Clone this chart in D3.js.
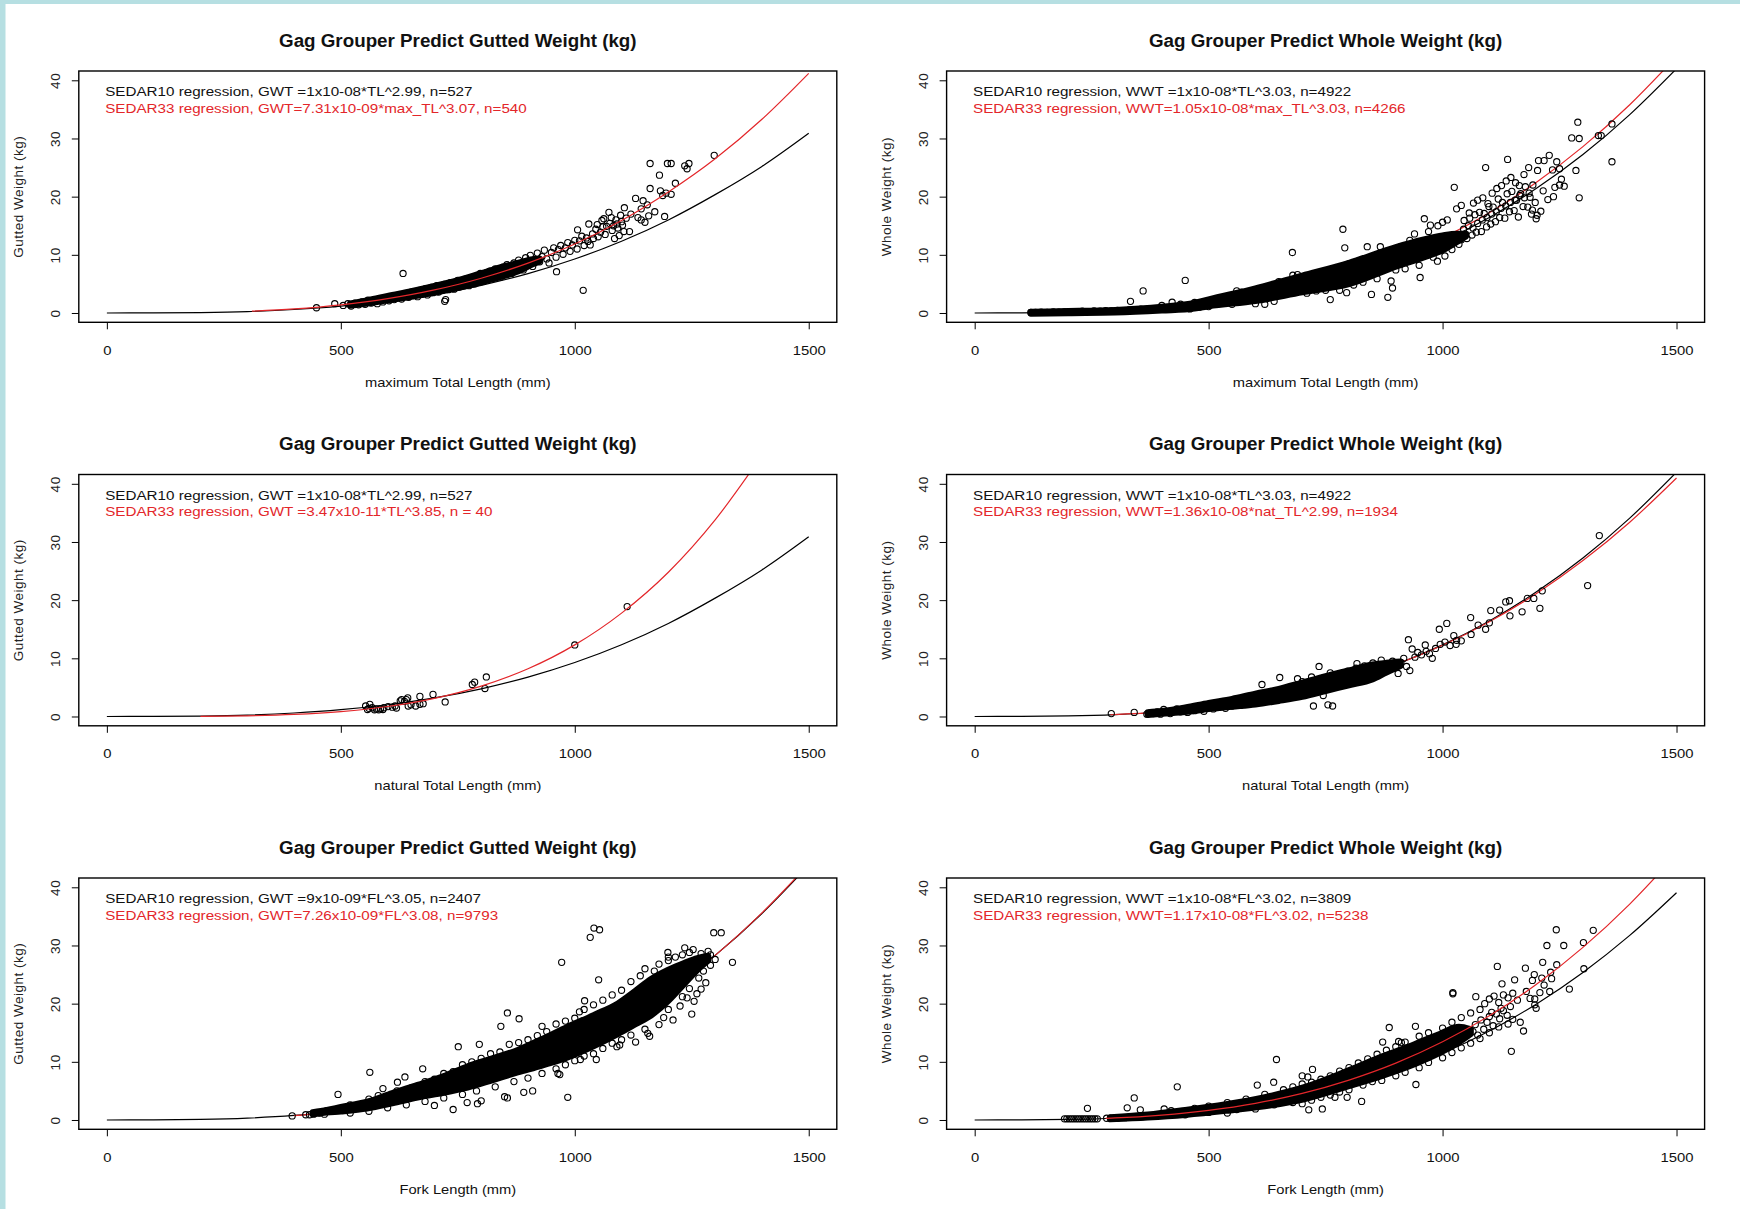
<!DOCTYPE html>
<html>
<head>
<meta charset="utf-8">
<script src="https://cdn.jsdelivr.net/npm/d3@7"></script>
<style>
  body { margin: 0; background: #fff; }
  svg { display: block; font-family: "Liberation Sans", Arial, sans-serif; }
</style>
</head>
<body>
<svg id="fig" width="1740" height="1209"></svg>
<script>
const xTicks = [0, 500, 1000, 1500];
const yTicks = [0, 10, 20, 30, 40];
const lengthGrid = [0, 100, 200, 300, 400, 500, 600, 700, 800, 900, 1000, 1100, 1200, 1300, 1400, 1500];

// SEDAR10 curves, read at lengthGrid
const gwtTL10 = [0, 0.01, 0.08, 0.25, 0.6, 1.17, 2.02, 3.19, 4.76, 6.77, 9.28, 12.34, 16.0, 20.35, 25.2, 30.9];
const wwtTL10 = [0, 0.01, 0.09, 0.32, 0.77, 1.5, 2.62, 4.18, 6.25, 8.94, 12.31, 16.42, 21.38, 27.23, 34.1, 42.0];
const gwtFL10 = [0, 0.01, 0.09, 0.32, 0.78, 1.54, 2.68, 4.28, 6.44, 9.22, 12.72, 17.0, 22.17, 28.3, 35.5, 43.8];
const wwtFL10 = [0, 0.01, 0.09, 0.3, 0.72, 1.42, 2.46, 3.91, 5.86, 8.35, 11.49, 15.31, 19.91, 25.36, 31.73, 39.07];

// SEDAR33 curves (own length ranges)
const redMaxGX = [310, 400, 500, 600, 700, 800, 900, 1000, 1100, 1200, 1300, 1400, 1500];
const gwtMax33 = [0.32, 0.71, 1.41, 2.47, 3.97, 5.98, 8.58, 11.86, 15.9, 20.8, 26.5, 33.3, 41.2];
const redMaxWX = [120, 200, 300, 400, 500, 600, 700, 800, 900, 1000, 1100, 1200, 1300, 1400, 1500];
const wwtMax33 = [0.02, 0.1, 0.34, 0.8, 1.58, 2.75, 4.39, 6.57, 9.39, 12.93, 17.24, 22.45, 28.6, 35.8, 44.1];
const redNatGX = [200, 300, 400, 500, 600, 700, 800, 900, 1000, 1100, 1200, 1300, 1400];
const gwtNat33 = [0.03, 0.12, 0.36, 0.85, 1.72, 3.12, 5.22, 8.2, 12.31, 17.77, 24.8, 33.8, 44.9];
const redNatWX = [290, 400, 500, 600, 700, 800, 900, 1000, 1100, 1200, 1300, 1400, 1500];
const wwtNat33 = [0.3, 0.8, 1.55, 2.68, 4.24, 6.3, 8.95, 12.25, 16.3, 21.1, 26.8, 33.4, 41.0];
const redForkGX = [400, 500, 600, 700, 800, 900, 1000, 1100, 1200, 1300, 1400, 1500];
const gwtFL33 = [0.75, 1.49, 2.62, 4.2, 6.35, 9.12, 12.62, 16.93, 22.13, 28.3, 35.6, 44.0];
const redForkWX = [280, 300, 400, 500, 600, 700, 800, 900, 1000, 1100, 1200, 1300, 1400, 1500];
const wwtFL33 = [0.29, 0.35, 0.84, 1.66, 2.87, 4.57, 6.86, 9.77, 13.44, 17.91, 23.29, 29.67, 37.12, 45.7];

// saturated part of the clouds: [length, low, high]
const coreMaxG = [[520,1.3,1.6],[560,1.7,2.2],[600,2.2,2.9],[650,2.8,3.7],[700,3.5,4.6],[750,4.3,5.6],[800,5.3,6.8],[850,6.4,8.0],[880,7.2,8.6],[910,8.4,9.2],[925,8.9,9.3]];
const coreMaxW = [[120,-0.1,0.2],[200,0.0,0.3],[300,0.1,0.5],[400,0.45,1.05],[470,0.8,1.7],[500,1.2,2.3],[600,2.1,4.2],[700,3.6,6.4],[800,5.0,8.6],[900,8.0,11.3],[960,9.6,12.6],[1000,10.8,13.3],[1030,12.2,13.6],[1050,13.2,13.6]];
const coreNatW = [[370,0.3,0.7],[400,0.5,0.9],[450,0.8,1.5],[500,1.3,2.3],[550,1.7,3.0],[600,2.1,3.9],[650,2.7,4.7],[700,3.4,5.8],[750,4.4,6.9],[800,5.4,7.9],[850,6.4,8.9],[880,7.6,9.2],[910,8.7,9.4]];
const coreForkG = [[440,1.0,1.3],[470,1.3,1.7],[500,1.5,2.2],[556,2.0,3.1],[610,2.9,4.6],[664,3.9,6.0],[720,4.7,7.5],[771,5.6,9.2],[825,6.9,10.6],[878,8.2,12.0],[930,9.4,13.9],[985,10.8,16.0],[1040,12.7,18.0],[1092,14.8,20.0],[1130,16.5,22.2],[1163,18.0,24.2],[1200,20.5,25.8],[1235,23.5,27.0],[1262,25.8,27.8],[1285,27.4,28.2]];
const coreForkW = [[290,0.15,0.45],[370,0.45,0.9],[450,0.9,1.7],[537,1.6,2.7],[620,2.4,3.9],[704,3.6,5.6],[790,5.6,8.2],[871,7.6,10.9],[940,9.6,13.0],[995,11.6,14.8],[1035,13.4,16.0],[1060,14.8,15.6]];

const ptsMaxG = [[448,0.9],[487,1.6],[505,1.3],[515,1.6],[522,1.2],[530,1.7],[538,1.4],[545,1.9],[552,1.5],[558,2.2],[565,1.7],[572,2.1],[578,1.6],[585,2.4],[590,1.9],[597,2.6],[603,2.1],[608,2.8],[614,2.3],[620,2.6],[625,3.1],[630,2.4],[633,6.8],[636,2.9],[640,3.3],[645,2.7],[650,3.6],[655,3.0],[660,3.4],[664,2.8],[668,3.9],[672,3.2],[677,3.6],[681,4.2],[685,3.1],[689,3.8],[693,4.4],[697,3.5],[701,4.0],[705,4.7],[709,3.6],[713,4.3],[717,3.9],[721,4.9],[722,2.0],[724,2.3],[726,4.4],[730,4.0],[734,5.2],[738,4.6],[742,4.1],[746,5.0],[750,5.6],[754,4.5],[758,5.2],[762,4.8],[766,5.8],[770,5.3],[774,4.7],[778,6.0],[782,5.5],[786,5.0],[790,6.3],[794,5.8],[798,6.8],[802,5.4],[806,6.2],[810,6.9],[814,5.8],[818,7.2],[822,6.5],[826,6.0],[830,7.6],[834,6.8],[838,7.3],[842,6.2],[846,7.9],[850,7.0],[855,8.3],[860,7.5],[865,6.8],[870,8.6],[875,7.8],[880,9.1],[885,8.2],[890,7.4],[895,9.5],[900,8.6],[905,9.9],[910,8.0],[915,9.2],[920,10.3],[925,8.8],[930,9.7],[935,10.8],[940,9.3],[945,8.6],[950,10.4],[955,11.2],[961,7.1],[960,9.6],[965,10.9],[970,11.6],[975,10.1],[980,11.2],[985,12.1],[990,10.6],[995,11.7],[1000,12.5],[1006,14.3],[1005,11.0],[1010,12.4],[1015,13.2],[1018,3.9],[1020,11.6],[1025,12.9],[1028,12.3],[1030,15.3],[1033,11.7],[1038,13.6],[1045,14.4],[1050,13.1],[1058,15.9],[1060,14.8],[1065,13.5],[1073,17.3],[1075,15.4],[1080,14.2],[1085,12.8],[1088,16.0],[1092,14.6],[1095,13.3],[1100,15.7],[1106,18.1],[1105,14.0],[1110,16.3],[1117,14.0],[1120,17.0],[1130,19.7],[1135,16.4],[1142,17.9],[1142,16.0],[1146,19.3],[1150,15.6],[1155,18.6],[1158,16.7],[1161,21.4],[1161,25.7],[1171,17.4],[1181,23.7],[1183,21.0],[1188,20.2],[1192,16.6],[1195,20.6],[1198,25.7],[1206,25.7],[1206,20.4],[1215,22.3],[1235,25.3],[1244,25.7],[1240,24.8],[1298,27.1],
  [1040,12.8],[1048,15.2],[1055,13.9],[1062,16.2],[1068,14.9],[1078,16.4],[1083,15.0],[1090,15.3],[1098,16.8],[1102,15.1]];

const ptsMaxW = [[120,0.1],[130,0.1],[142,0.15],[155,0.1],[168,0.2],[180,0.15],[192,0.2],[205,0.25],[218,0.2],[230,0.3],[242,0.25],[255,0.35],[268,0.3],[280,0.4],[292,0.35],[305,0.45],[318,0.4],[330,0.55],[333,2.0],[343,0.5],[355,0.65],[360,3.8],[368,0.6],[380,0.75],[392,0.7],[400,1.3],[405,0.9],[418,0.85],[422,1.85],[430,1.0],[440,1.5],[450,5.6],[455,1.2],[460,0.7],[470,1.8],[480,1.0],[480,1.7],[500,1.1],[500,1.9],[510,2.2],[530,2.3],[540,2.6],[550,1.5],[560,2.9],[560,3.8],[570,3.6],[580,3.0],[590,3.3],[600,1.6],[610,3.4],[620,3.6],[620,1.5],[640,4.0],[640,2.0],[650,5.4],[660,4.3],[670,5.3],[679,10.4],[680,6.5],[690,6.6],[700,6.0],[710,3.4],[720,6.3],[730,3.8],[740,6.9],[750,3.9],[760,2.3],[760,7.0],[770,7.4],[780,3.9],[787,14.4],[791,11.2],[795,3.5],[800,8.5],[810,4.8],[820,8.9],[830,5.3],[839,11.4],[840,9.4],[848,3.2],[850,9.6],[860,5.9],[867,11.4],[870,10.3],[883,2.7],[880,10.6],[890,5.5],[893,4.3],[900,7.4],[910,11.4],[920,7.6],[930,12.5],[940,13.6],[950,8.2],[952,6.1],[961,16.2],[970,14.0],[974,15.1],[980,9.6],[989,8.9],[990,15.0],[1000,15.6],[1005,9.8],[1010,16.0],[1020,10.9],[1025,21.6],[1030,17.9],[1035,11.8],[1040,18.5],[1040,12.6],
  [1052,12.8],[1046,15.9],[1057,17.2],[1063,13.4],[1058,16.3],[1066,18.9],[1072,13.9],[1069,16.9],[1075,19.4],[1083,14.0],[1079,17.3],[1086,19.8],[1094,14.8],[1089,17.1],[1097,18.8],[1092,25.0],[1103,15.3],[1099,18.3],[1106,20.6],[1113,15.7],[1108,18.2],[1116,21.4],[1122,16.4],[1119,19.6],[1126,21.9],[1133,16.3],[1128,19.0],[1136,22.7],[1139,26.4],[1143,17.4],[1138,20.5],[1146,23.3],[1153,17.6],[1148,20.9],[1156,22.4],[1162,16.5],[1158,19.4],[1164,21.9],[1172,18.3],[1167,20.5],[1174,23.8],[1182,18.2],[1177,21.7],[1184,25.0],[1192,17.7],[1187,19.9],[1193,22.0],[1202,16.8],[1198,19.0],[1203,24.5],
  [1205,26.2],[1217,26.2],[1228,27.1],[1244,26.0],[1235,24.6],[1250,24.8],[1237,20.0],[1240,21.6],[1250,22.0],[1254,23.0],[1285,24.5],[1276,30.1],[1292,30.0],[1289,32.8],[1333,30.5],[1339,30.5],[1362,32.5],[1362,26.0],[1292,19.8],[1215,21.0],[1225,19.5],[1190,17.0],[1200,16.2],[1210,17.5],[1260,21.8],
  [1045,14.4],[1055,15.0],[1065,14.6],[1075,15.4],[1085,16.0],[1095,16.4],[1105,17.0],[1115,17.4],[1125,18.0],[1135,18.4],[1145,19.0],[1155,19.4],[1165,20.2],[1175,19.8],[1185,20.6]];

const ptsNatG = [[553,1.8],[562,2.1],[557,1.2],[567,1.5],[572,1.15],[576,1.3],[581,1.15],[585,1.35],[592,1.5],[601,1.7],[616,1.8],[619,1.45],[627,2.7],[630,2.9],[636,2.6],[643,3.2],[644,1.8],[660,1.8],[669,2.1],[669,3.45],[676,2.2],[697,3.8],[723,2.5],[781,5.5],[786,5.9],[808,4.8],[811,6.8],[1000,12.3],[1112,18.9],[560,1.4],[590,1.2],[610,1.6],[640,2.9],[650,2.0]];

const ptsNatW = [[292,0.5],[341,0.7],[368,0.4],[375,0.6],[382,0.5],[390,0.8],[397,0.4],[404,1.2],[410,0.7],[418,0.5],[425,0.9],[432,1.3],[440,0.8],[447,1.1],[455,0.7],[462,1.4],[470,1.0],[477,1.6],[484,1.2],[490,0.9],[497,1.5],[503,1.8],[510,1.3],[516,2.2],[523,1.6],[530,1.9],[536,1.4],[543,2.4],[550,1.8],[556,2.1],[562,2.7],[568,1.9],[575,2.4],[581,3.0],[587,2.2],[593,2.7],[599,3.4],[605,2.4],[611,3.0],[614,5.5],[617,3.7],[623,2.7],[629,3.3],[635,4.0],[641,2.9],[647,3.6],[652,6.7],[653,4.4],[659,3.2],[665,3.9],[671,4.8],[677,3.5],[683,4.3],[689,5.2],[690,6.5],[695,3.8],[700,6.0],[701,4.7],[707,5.6],[713,4.2],[719,5.1],[720,6.8],[724,1.8],[725,6.0],[731,4.5],[736,8.6],[737,5.5],[743,6.4],[745,3.6],[749,4.8],[755,2.0],[755,5.9],[760,7.5],[761,6.9],[765,1.8],[767,5.2],[773,6.3],[779,7.3],[785,5.6],[791,6.7],[797,7.8],[803,6.0],[809,7.2],[815,8.3],[817,9.1],[821,6.5],[827,7.6],[833,8.7],[839,7.0],[845,8.1],[851,9.2],[857,7.4],[863,8.6],[869,9.7],[875,7.9],[881,9.0],[887,8.2],[893,9.5],[899,8.7],[905,7.4],[911,9.3],[917,10.0],[923,8.6],[927,13.2],[930,7.9],[935,11.6],[941,10.2],[947,11.0],[955,10.6],[963,12.3],[965,11.2],[972,10.8],[978,10.0],[985,11.7],[993,15.0],[995,12.4],[1005,12.8],[1009,16.0],[1016,12.2],[1024,13.9],[1029,12.4],[1030,13.1],[1040,13.0],[1060,17.0],[1061,14.1],[1076,15.7],[1092,15.0],[1100,16.1],[1103,18.2],[1122,18.3],[1135,19.7],[1143,19.9],[1144,17.3],[1170,18.0],[1181,20.3],[1195,20.3],[1208,18.6],[1213,21.6],[1310,22.5],[1335,31.1]];

const ptsForkG = [[396,0.7],[425,0.9],[433,0.9],[442,1.0],[455,1.2],[465,1.0],[470,1.6],[494,4.4],[562,8.2],[590,5.4],[621,6.5],[637,7.4],[675,8.8],[751,12.6],[796,13.0],[842,16.1],[856,18.4],[881,17.4],[930,16.1],[972,27.1],[1033,31.4],[1041,33.0],[1053,32.7],[1051,24.1],[1021,20.5],[1010,18.6],[985,3.9],[1297,32.2],[1313,32.2],[1337,27.1],[1235,29.6],[1253,29.3],[1199,28.8],[1200,28.0],[1156,14.9],[1096,12.9],[792,2.8],[740,1.8],[856,3.8],[891,4.75],[964,8.0],[968,7.8],[1012,10.4],[1046,10.4],[1261,21.7],
  [520,1.2],[560,1.5],[600,2.1],[640,2.6],[680,3.2],[700,2.5],[720,3.8],[760,4.4],[770,3.0],[790,5.0],[800,3.3],[830,5.7],[850,4.0],[870,6.6],[900,7.2],[910,5.0],[930,8.0],[960,8.8],[980,9.5],[1000,10.2],[1020,11.0],[1040,11.4],[1060,12.3],[1080,13.2],[1090,12.6],[1100,13.8],[1120,14.6],[1130,13.4],[1150,15.6],[1160,14.4],[1180,16.4],[1190,17.6],[1200,19.0],[1210,17.2],[1225,19.6],[1240,21.0],[1250,18.2],[1255,20.4],[1270,22.5],[1280,23.6],[1230,21.2],[1265,24.4],[1275,25.6],[1290,26.6],[1300,27.6],[1245,22.6],
  [520,2.6],[560,3.6],[580,4.2],[600,3.9],[620,5.0],[650,5.5],[680,6.6],[700,7.0],[720,8.0],[740,8.3],[760,9.5],[780,10.0],[800,10.6],[820,11.4],[840,11.7],[860,13.0],[880,13.3],[900,13.8],[920,14.5],[940,15.2],[960,16.5],[980,17.0],[1000,17.5],[1020,19.0],[1040,19.8],[1060,20.6],[1080,21.5],[1100,22.3],[1120,23.8],[1140,24.8],[1150,26.0],[1170,25.6],[1180,26.8],[1200,27.4],[1215,28.0],[1230,28.4],[1245,28.8],[1270,28.6],[1285,29.0],[1290,28.4]];

const ptsForkW = [[192,0.2],[197,0.2],[202,0.2],[207,0.2],[212,0.2],[217,0.2],[222,0.2],[227,0.2],[232,0.2],[237,0.2],[242,0.2],[247,0.2],[252,0.2],[257,0.2],[262,0.2],[282,0.3],[290,0.3],[298,0.3],[306,0.3],[314,0.4],[322,0.4],[330,0.5],[340,0.5],[350,0.6],[360,0.6],
  [400,0.8],[450,0.9],[500,1.3],[540,1.2],[560,1.8],[600,1.9],[640,2.6],[680,3.0],[700,2.8],[720,3.4],[740,3.9],[760,4.3],[780,4.8],[800,5.2],[830,6.0],[850,6.6],[870,6.8],[900,7.6],[920,8.2],[950,9.0],[970,9.9],[1000,10.7],[1020,11.6],[1040,12.4],[1060,13.2],[1080,14.0],[1100,15.0],[1120,16.0],[1140,16.5],[1150,17.3],
  [420,1.6],[470,2.0],[500,2.4],[540,3.0],[580,3.6],[620,4.4],[660,5.2],[680,5.7],[700,6.2],[720,6.5],[740,7.0],[760,7.6],[780,8.4],[800,9.0],[820,9.8],[840,10.5],[860,11.3],[880,12.0],[900,12.6],[920,13.4],[950,14.4],[970,15.0],[1000,15.8],[1020,16.8],[1040,17.6],[1060,18.4],[1080,19.0],[1090,20.0],[1100,20.8],[1110,21.3],[1120,20.2],[1130,21.5],[1140,21.0],[1150,21.8],[1160,20.6],[1105,18.5],[1125,19.2],[1145,19.5],
  [1065,15.2],[1070,16.4],[1075,14.6],[1082,17.2],[1088,15.6],[1095,16.8],[1100,17.8],[1108,16.2],[1115,18.2],[1122,17.4],[1130,18.8],[1138,18.0],
  [241,2.0],[326,2.1],[341,3.8],[354,1.75],[405,1.9],[433,5.7],[604,6.0],[639,6.5],[645,10.4],[700,7.6],[712,7.4],[722,8.7],[714,1.75],[743,1.9],[770,3.9],[796,3.9],[827,3.2],[850,7.5],[872,13.4],[886,15.9],[906,13.5],[912,13.3],[942,16.1],[943,6.1],[1022,21.7],[1022,21.9],[1071,21.2],[1117,26.4],[1127,23.4],[1147,11.8],[1154,24.1],[1166,16.8],[1173,15.3],[1177,26.1],[1179,22.1],[1187,20.9],[1192,24.0],[1196,25.0],[1197,20.8],[1197,19.8],[1200,19.2],[1208,21.9],[1212,24.4],[1214,27.1],[1217,23.2],[1223,30.0],[1229,22.1],[1231,25.4],[1233,24.3],[1243,32.7],[1244,26.7],[1259,30.0],[1271,22.5],[1301,30.5],[1302,26.0],[1322,32.6]];

const titles = ["Gag Grouper Predict Gutted Weight (kg)", "Gag Grouper Predict Whole Weight (kg)"];
const yLabels = ["Gutted Weight (kg)", "Whole Weight (kg)"];
const xLabels = ["maximum Total Length (mm)", "natural Total Length (mm)", "Fork Length (mm)"];
const legends = [
  ["SEDAR10 regression, GWT =1x10-08*TL^2.99, n=527", "SEDAR33 regression, GWT=7.31x10-09*max_TL^3.07, n=540"],
  ["SEDAR10 regression, WWT =1x10-08*TL^3.03, n=4922", "SEDAR33 regression, WWT=1.05x10-08*max_TL^3.03, n=4266"],
  ["SEDAR10 regression, GWT =1x10-08*TL^2.99, n=527", "SEDAR33 regression, GWT =3.47x10-11*TL^3.85, n = 40"],
  ["SEDAR10 regression, WWT =1x10-08*TL^3.03, n=4922", "SEDAR33 regression, WWT=1.36x10-08*nat_TL^2.99, n=1934"],
  ["SEDAR10 regression, GWT =9x10-09*FL^3.05, n=2407", "SEDAR33 regression, GWT=7.26x10-09*FL^3.08, n=9793"],
  ["SEDAR10 regression, WWT =1x10-08*FL^3.02, n=3809", "SEDAR33 regression, WWT=1.17x10-08*FL^3.02, n=5238"]
];

const RED = "#e3262a";

class WeightPanel {

  constructor( config, data ) {
    this.config = {
      parent: config.parent,
      id: config.id,
      left: config.left,
      top: config.top,
      width: config.width || 758,
      height: config.height || 251.3,
      linesOnTop: config.linesOnTop
    }
    this.data = data;
    this.init();
  }

  init() {
    let self = this;
    self.chart = self.config.parent.append('g')
      .attr('transform', `translate(${self.config.left}, ${self.config.top})`);

    self.xscale = d3.scaleLinear().domain([-60, 1560]).range([0, self.config.width]);
    self.yscale = d3.scaleLinear().domain([-1.6, 41.6]).range([self.config.height, 0]);

    self.chart.append('clipPath').attr('id', 'clip' + self.config.id)
      .append('rect')
      .attr('width', self.config.width)
      .attr('height', self.config.height);

    self.plot = self.chart.append('g').attr('clip-path', `url(#clip${self.config.id})`);
  }

  wideText( g, x, y, str, size, sx ) {
    return g.append('text')
      .attr('transform', `translate(${x}, ${y}) scale(${sx}, 1)`)
      .attr('font-size', size)
      .text(str);
  }

  render() {
    let self = this;
    const d = self.data;
    const w = self.config.width, h = self.config.height;

    const line = d3.line()
      .x(p => self.xscale(p[0]))
      .y(p => self.yscale(p[1]))
      .curve(d3.curveMonotoneX);

    const drawLines = () => {
      self.plot.append('path')
        .attr('d', line(lengthGrid.map((x, i) => [x, d.black[i]])))
        .attr('fill', 'none').attr('stroke', '#000').attr('stroke-width', 1.2);
      self.plot.append('path')
        .attr('d', line(d.redX.map((x, i) => [x, d.red[i]])))
        .attr('fill', 'none').attr('stroke', RED).attr('stroke-width', 1.2);
    };

    if (!self.config.linesOnTop) drawLines();

    if (d.core) {
      const area = d3.area()
        .x(p => self.xscale(p[0]))
        .y0(p => self.yscale(p[1]))
        .y1(p => self.yscale(p[2]))
        .curve(d3.curveMonotoneX);
      self.plot.append('path')
        .attr('d', area(d.core))
        .attr('fill', '#000')
        .attr('stroke', '#000')
        .attr('stroke-width', 6.4)
        .attr('stroke-linejoin', 'round');
    }

    self.plot.append('g')
      .selectAll('circle')
      .data(d.points)
      .join('circle')
      .attr('cx', p => self.xscale(p[0]))
      .attr('cy', p => self.yscale(p[1]))
      .attr('r', 3.1)
      .attr('fill', 'none')
      .attr('stroke', '#000')
      .attr('stroke-width', 1.1);

    if (self.config.linesOnTop) drawLines();

    // frame
    self.chart.append('rect')
      .attr('width', w).attr('height', h)
      .attr('fill', 'none').attr('stroke', '#000').attr('stroke-width', 1.4);

    const xaxis = d3.axisBottom(self.xscale).tickValues(xTicks).tickSize(7).tickSizeOuter(0)
      .tickFormat(d3.format('d'));
    const xg = self.chart.append('g').attr('transform', `translate(0, ${h})`).call(xaxis);
    xg.select('.domain').remove();
    xg.selectAll('line').attr('stroke', '#000').attr('stroke-width', 1);
    xg.selectAll('text')
      .attr('y', null).attr('dy', null)
      .attr('transform', 'translate(0, 32.4) scale(1.1, 1)')
      .attr('font-size', 13.5)
      .attr('font-family', '"Liberation Sans", Arial, sans-serif')
      .attr('fill', '#111');

    const yaxis = d3.axisLeft(self.yscale).tickValues(yTicks).tickSize(7).tickSizeOuter(0)
      .tickFormat(d3.format('d'));
    const yg = self.chart.append('g').call(yaxis);
    yg.select('.domain').remove();
    yg.selectAll('line').attr('stroke', '#000').attr('stroke-width', 1);
    yg.selectAll('text')
      .attr('x', null).attr('dy', null)
      .attr('text-anchor', 'middle')
      .attr('transform', 'translate(-18.7, 0) rotate(-90)')
      .attr('font-size', 13.5)
      .attr('letter-spacing', 0.6)
      .attr('font-family', '"Liberation Sans", Arial, sans-serif')
      .attr('fill', '#222');

    self.chart.append('text')
      .attr('transform', `translate(-56, ${h / 2}) rotate(-90)`)
      .attr('text-anchor', 'middle')
      .attr('font-size', 13.5)
      .attr('letter-spacing', 0.5)
      .attr('fill', '#222')
      .text(d.ylab);

    self.wideText(self.chart, w / 2, h + 64.4, d.xlab, 13, 1.13)
      .attr('text-anchor', 'middle').attr('fill', '#111');

    self.chart.append('text')
      .attr('x', w / 2).attr('y', -24.4)
      .attr('text-anchor', 'middle')
      .attr('font-size', 18.8)
      .attr('font-weight', 'bold')
      .attr('fill', '#111')
      .text(d.title);

    self.wideText(self.chart, 26.4, 25, d.legend[0], 13, 1.17).attr('fill', '#111');
    self.wideText(self.chart, 26.4, 41.7, d.legend[1], 13, 1.17).attr('fill', RED);
  }
}

const svg = d3.select('#fig');
svg.append('rect').attr('width', 1740).attr('height', 1209).attr('fill', '#fff');
svg.append('rect').attr('width', 1740).attr('height', 4).attr('fill', '#b6dfe2');
svg.append('rect').attr('width', 5.5).attr('height', 1209).attr('fill', '#b6dfe2');

const colLeft = [78.8, 946.6];
const rowTop = [71, 474.5, 878];

const panels = [
  { black: gwtTL10, redX: redMaxGX, red: gwtMax33, core: coreMaxG, points: ptsMaxG, top: true },
  { black: wwtTL10, redX: redMaxWX, red: wwtMax33, core: coreMaxW, points: ptsMaxW, top: false },
  { black: gwtTL10, redX: redNatGX, red: gwtNat33, core: null, points: ptsNatG, top: true },
  { black: wwtTL10, redX: redNatWX, red: wwtNat33, core: coreNatW, points: ptsNatW, top: false },
  { black: gwtFL10, redX: redForkGX, red: gwtFL33, core: coreForkG, points: ptsForkG, top: false },
  { black: wwtFL10, redX: redForkWX, red: wwtFL33, core: coreForkW, points: ptsForkW, top: true }
];

panels.forEach((p, i) => {
  const col = i % 2, row = Math.floor(i / 2);
  const panel = new WeightPanel(
    { parent: svg, id: i, left: colLeft[col], top: rowTop[row], linesOnTop: p.top },
    {
      black: p.black, redX: p.redX, red: p.red, core: p.core, points: p.points,
      title: titles[col], ylab: yLabels[col], xlab: xLabels[row], legend: legends[i]
    }
  );
  panel.render();
});
</script>
</body>
</html>
